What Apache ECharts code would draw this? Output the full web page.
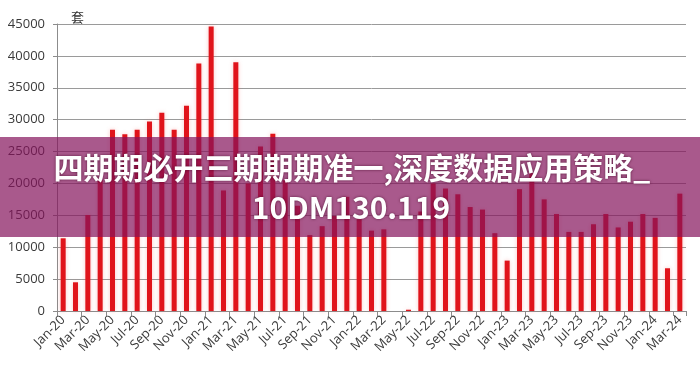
<!DOCTYPE html>
<html>
<head>
<meta charset="utf-8">
<script src="https://cdn.jsdelivr.net/npm/echarts@6/dist/echarts.min.js"></script>
<style>html,body{margin:0;padding:0;background:#fff}#c{width:700px;height:375px}</style>
</head>
<body>
<div id="c"></div>
<script>
var categories = ['Jan-20','Feb-20','Mar-20','Apr-20','May-20','Jun-20','Jul-20','Aug-20','Sep-20','Oct-20','Nov-20','Dec-20',
  'Jan-21','Feb-21','Mar-21','Apr-21','May-21','Jun-21','Jul-21','Aug-21','Sep-21','Oct-21','Nov-21','Dec-21',
  'Jan-22','Feb-22','Mar-22','Apr-22','May-22','Jun-22','Jul-22','Aug-22','Sep-22','Oct-22','Nov-22','Dec-22',
  'Jan-23','Feb-23','Mar-23','Apr-23','May-23','Jun-23','Jul-23','Aug-23','Sep-23','Oct-23','Nov-23','Dec-23',
  'Jan-24','Feb-24','Mar-24'];
var values = [11400,4500,15050,20500,28400,27700,28400,29700,31100,28400,32200,38800,
  44600,18900,39000,20000,25800,27800,20500,16500,11900,13300,14900,17900,
  14400,12600,12800,0,200,15600,20000,19200,18300,16300,15900,12200,
  7900,19100,21600,17500,15200,12400,12400,13600,15200,13100,14000,15200,
  14600,6700,18400];
var unitLabel = '套';
var titleLine1 = '四期期必开三期期期准一,深度数据应用策略_';
var titleLine2 = '10DM130.119';

var chart = echarts.init(document.getElementById('c'), null, {renderer:'canvas'});
var axisFont = '"Open Sans", "DejaVu Sans", sans-serif';
chart.setOption({
  animation: false,
  grid: {left: 57, right: 14, top: 24, bottom: 64, containLabel: false},
  xAxis: {
    type: 'category',
    data: categories,
    boundaryGap: true,
    axisLine: {lineStyle: {color: '#8c8c8c', width: 1}},
    axisTick: {show: true, interval: 1, length: 5, lineStyle: {color: '#8c8c8c'}},
    axisLabel: {interval: 1, rotate: 45, margin: 7, color: '#3a3a3a', fontSize: 13, fontFamily: axisFont}
  },
  yAxis: {
    type: 'value',
    min: 0, max: 45000, interval: 5000,
    axisLine: {show: true, lineStyle: {color: '#8c8c8c'}},
    axisTick: {show: true, inside: false, length: 4, lineStyle: {color: '#8c8c8c'}},
    axisLabel: {margin: 12, color: '#3a3a3a', fontSize: 13, fontFamily: axisFont,
      formatter: function (v) { return String(v); }},
    splitLine: {lineStyle: {color: '#9a9a9a', width: 1}}
  },
  series: [{
    type: 'bar',
    data: values,
    barWidth: 5,
    itemStyle: {color: '#e0141b', shadowBlur: 4, shadowColor: 'rgba(240,90,90,0.35)'}
  }],
  graphic: [
    {type: 'text', left: 71, top: 11, z: 10,
     style: {text: unitLabel, fontSize: 13, fill: '#333', fontFamily: '"Noto Sans CJK SC", sans-serif'}},
    {type: 'rect', shape: {x: 0, y: 137, width: 700, height: 100}, z: 100,
     style: {fill: 'rgba(133,19,91,0.7)'}},
    {type: 'text', x: 352, y: 168, z: 101,
     style: {text: titleLine1, fill: '#fff', fontSize: 30, fontWeight: 'bold',
       fontFamily: '"Noto Sans CJK SC", sans-serif', align: 'center', verticalAlign: 'middle',
       textShadowColor: 'rgba(60,0,30,0.7)', textShadowBlur: 3}},
    {type: 'text', x: 351, y: 208, z: 101,
     style: {text: titleLine2, fill: '#fff', fontSize: 30, fontWeight: 'bold',
       fontFamily: '"Noto Sans CJK SC", sans-serif', align: 'center', verticalAlign: 'middle',
       textShadowColor: 'rgba(60,0,30,0.7)', textShadowBlur: 3}}
  ]
});
</script>
</body>
</html>
